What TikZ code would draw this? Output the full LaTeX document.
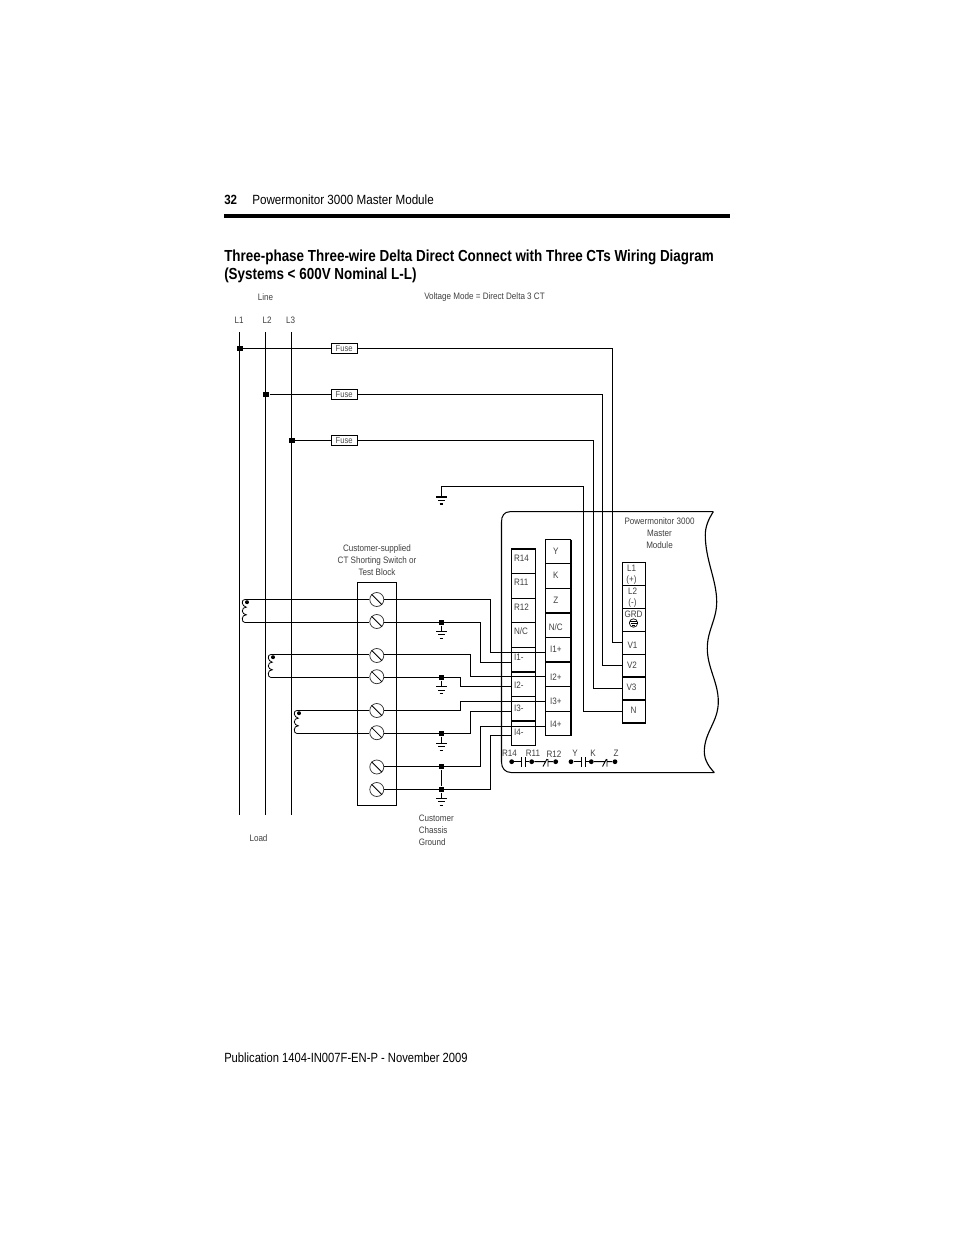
\documentclass[tikz,border=0pt]{standalone}
\usepackage{fontspec}
\setmainfont{Liberation Sans}[FakeStretch=0.865]
\newfontfamily\ttl{Liberation Sans}[FakeStretch=0.84]
\newfontfamily\hdr{Liberation Sans}[FakeStretch=0.875]
\newfontfamily\ftr{Liberation Sans}[FakeStretch=0.84]
\tikzset{
  x=0.75pt,y=-0.75pt,
  wire/.style={line width=0.76pt,black},
  lab/.style={font=\fontsize{7}{8}\selectfont,text=black!75,inner sep=0pt,anchor=west},
  labc/.style={font=\fontsize{7}{9}\selectfont,text=black!75,inner sep=0pt,align=center},
  labl/.style={font=\fontsize{7}{9}\selectfont,text=black!75,inner sep=0pt,align=left,anchor=north west},
  fusebox/.style={draw,line width=0.7pt,minimum width=19.5pt,minimum height=7pt,inner sep=0pt,font=\fontsize{6.6}{7}\selectfont,text=black!70},
  screw/.style={circle,draw=black!80,line width=0.55pt,minimum size=10.5pt,inner sep=0pt},
  jn/.style={fill=black,minimum size=4.4pt,inner sep=0pt},
  pin/.style={circle,fill=black,minimum size=3.6pt,inner sep=0pt},
  tbar/.style={line width=0.7pt},
  thick bar/.style={line width=1.5pt}
}
\newcommand{\gsym}[1]{%
  \draw[wire] (#1) ++(-5.5,0) -- ++(11,0);
  \draw[wire] (#1) ++(-3.5,3.5) -- ++(7,0);
  \draw[wire] (#1) ++(-1.8,7) -- ++(3.6,0);
}
\newcommand{\coil}[2]{%
  \draw[line width=0.6pt] (#1+2.5,#2) .. controls (#1+0.5,#2) and (#1,#2+1.5) .. (#1,#2+3.5)
     .. controls (#1,#2+5.5) and (#1+2,#2+7) .. (#1+4,#2+7.7)
     .. controls (#1+1.5,#2+7.7) and (#1,#2+9) .. (#1,#2+11.5)
     .. controls (#1,#2+13.5) and (#1+2,#2+15) .. (#1+4,#2+15.3)
     .. controls (#1+1.5,#2+15.3) and (#1,#2+17) .. (#1,#2+19)
     .. controls (#1,#2+21) and (#1+0.5,#2+23) .. (#1+2.5,#2+23);
  \fill (#1+4.7,#2+2.7) circle (2);
}
\begin{document}
\begin{tikzpicture}
\useasboundingbox (0,0) rectangle (954,1235);
\fill[white] (0,0) rectangle (954,1235);
% header
\node[anchor=base west,inner sep=0pt,font=\fontsize{10}{12}\selectfont\bfseries] (pg) at (224,204.5) {32};
\node[anchor=base west,inner sep=0pt,font=\hdr\fontsize{10}{12}\selectfont] (ht) at (252,204.5) {Powermonitor 3000 Master Module};
\draw[line width=2.4pt] (224,216) -- (730,216);
\node[anchor=base west,inner sep=0pt,font=\ttl\bfseries\fontsize{12}{14}\selectfont] (t1) at (224,261.5) {Three-phase Three-wire Delta Direct Connect with Three CTs Wiring Diagram};
\node[anchor=base west,inner sep=0pt,font=\ttl\bfseries\fontsize{12}{14}\selectfont] (t2) at (224,279.5) {(Systems < 600V Nominal L-L)};
\node[anchor=base west,inner sep=0pt,font=\ftr\fontsize{10}{12}\selectfont] (ft) at (224,1062.5) {Publication 1404-IN007F-EN-P - November 2009};
% top labels
\node[labc] (line) at (265.5,297.5) {Line};
\node[labc] (vm) at (484.5,297) {Voltage Mode = Direct Delta 3 CT};
\node[labc] (tl1) at (239,320.5) {L1};
\node[labc] (tl2) at (267,320.5) {L2};
\node[labc] (tl3) at (290.5,320.5) {L3};
\node[labc] (load) at (258.5,838.5) {Load};
\node[labc] (css) at (377,560) {Customer-supplied\\CT Shorting Switch or\\Test Block};
\node[labl] (ccg) at (418.5,815) {Customer\\Chassis\\Ground};
\node[labc] (pmm) at (659.5,533.5) {Powermonitor 3000\\Master\\Module};
% bus lines
\coordinate (b1t) at (239.5,332); \coordinate (b1b) at (239.5,815);
\coordinate (b2t) at (265.5,332); \coordinate (b2b) at (265.5,815);
\coordinate (b3t) at (291.5,332); \coordinate (b3b) at (291.5,815);
\draw[wire] (b1t) -- (b1b); \draw[wire] (b2t) -- (b2b); \draw[wire] (b3t) -- (b3b);
% module outline
\draw[wire] (713.3,511.7) -- (510,511.7) .. controls (504,511.7) and (501.5,516) .. (501.5,522) -- (501.5,762)
  .. controls (501.5,768) and (505,772.5) .. (511,772.5) -- (714.3,772.5);
\draw[line width=0.85pt] (713.3,511.7) .. controls (708,520) and (705.3,527) .. (705.3,535)
  .. controls (705.3,560) and (716.7,580) .. (716.7,601.7)
  .. controls (716.7,620) and (707.3,630) .. (707.3,648.3)
  .. controls (707.3,668) and (718.3,682) .. (718.3,701.7)
  .. controls (718.3,722) and (704.3,732) .. (704.3,751.7)
  .. controls (704.3,760) and (709,767) .. (714.3,772.5);
% fuses + wires
\node[fusebox] (f1) at (344.2,348.5) {Fuse\hspace{2.5pt}};
\node[fusebox] (f2) at (344.2,394.5) {Fuse\hspace{2.5pt}};
\node[fusebox] (f3) at (344.2,440.5) {Fuse\hspace{2.5pt}};
\node[jn] (j1) at (239.8,348.5) {};
\node[jn] (j2) at (266.3,394.5) {};
\node[jn] (j3) at (291.8,440.5) {};
\draw[wire] (j1) -- (f1); \draw[wire] (j2) -- (f2); \draw[wire] (j3) -- (f3);
% terminals right
\coordinate (v1) at (622.3,642.5);
\coordinate (v2) at (622.3,665.5);
\coordinate (v3) at (622.3,688.5);
\coordinate (vn) at (622.3,711.5);
\draw[wire] (f1) -- (612.5,348.5) -- (612.5,642.5) -- (v1);
\draw[wire] (f2) -- (602.5,394.5) -- (602.5,665.5) -- (v2);
\draw[wire] (f3) -- (593.5,440.5) -- (593.5,688.5) -- (v3);
\coordinate (g0) at (441.5,497);
\draw[wire] (g0) -- (441.5,486.5) -- (583.5,486.5) -- (583.5,711.5) -- (vn);
\gsym{g0}
% test block
\node[draw,line width=0.76pt,minimum width=29.25pt,minimum height=167.25pt,inner sep=0pt] (tb) at (376.8,693.8) {};
\foreach \n/\y in {s1/599.5,s2/621.5,s3/655.5,s4/676.7,s5/710.5,s6/732.7,s7/767,s8/789.5}{
  \node[screw] (\n) at (376.8,\y) {};
  \draw[line width=0.6pt] (\n.135) -- (\n.-45);
}
% CTs
\coil{242.3}{599.5}
\coil{268.3}{654.5}
\coil{294.3}{710.5}
\coordinate (c1a) at (244.8,599.5); \coordinate (c1b) at (244.8,622.5);
\coordinate (c2a) at (270.8,654.5); \coordinate (c2b) at (270.8,677.5);
\coordinate (c3a) at (296.8,710.5); \coordinate (c3b) at (296.8,733.5);
\draw[wire] (c1a) -- (s1.west); \draw[wire] (c1b) -- (s2.west |- c1b);
\draw[wire] (c2a) -- (s3.west |- c2a); \draw[wire] (c2b) -- (s4.west |- c2b);
\draw[wire] (c3a) -- (s5.west |- c3a); \draw[wire] (c3b) -- (s6.west |- c3b);
% terminal nodes for current inputs
\coordinate (ip1) at (545.3,652.5); \coordinate (im1) at (511.3,662.5);
\coordinate (ip2) at (545.3,676.5); \coordinate (im2) at (511.3,686.5);
\coordinate (ip3) at (545.3,701.5); \coordinate (im3) at (511.3,711.5);
\coordinate (ip4) at (545.3,726.5); \coordinate (im4) at (511.3,735.5);
\draw[wire] (s1.east) -- (490.5,599.5) -- (490.5,652.5) -- (ip1);
\draw[wire] (s2.east |- 0,622.5) -- (480.5,622.5) -- (480.5,662.5) -- (im1);
\draw[wire] (s3.east |- 0,654.5) -- (470.5,654.5) -- (470.5,676.5) -- (ip2);
\draw[wire] (s4.east |- 0,677.5) -- (460.5,677.5) -- (460.5,686.5) -- (im2);
\draw[wire] (s5.east) -- (460.5,710.5) -- (460.5,701.5) -- (ip3);
\draw[wire] (s6.east |- 0,733.5) -- (470.5,733.5) -- (470.5,711.5) -- (im3);
\draw[wire] (s7.east |- 0,766.5) -- (480.5,766.5) -- (480.5,726.5) -- (ip4);
\draw[wire] (s8.east) -- (490.5,789.5) -- (490.5,735.5) -- (im4);
% grounds
\foreach \n/\y/\z in {g1/622.5/631,g2/677.5/686.5,g3/733.5/743}{
  \node[jn] (\n) at (441.5,\y) {};
  \coordinate (\n e) at (441.5,\z);
  \draw[wire] (\n) -- (\n e);
  \gsym{\n e}
}
\node[jn] (g4) at (441.5,766.5) {};
\node[jn] (g5) at (441.5,789.5) {};
\coordinate (g5e) at (441.5,798);
\draw[wire] (g4) -- (g5) -- (g5e);
\gsym{g5e}
% left terminal block
\draw[wire] (511.5,548.5) rectangle (535.5,745.5);
\foreach \y in {573.5,598.5,622.5,647.5,696.5}{\draw[tbar] (511.5,\y) -- (535.5,\y);}
\foreach \y in {548.5,671.5,721}{\draw[thick bar] (511.5,\y) -- (535.5,\y);}
% middle block
\draw[wire] (545.5,539.5) rectangle (570.5,735.5);
\draw[thick bar] (570.5,539.5) -- (570.5,735.5);
\foreach \y in {563.5,588.5,637.5,686.5,711.5}{\draw[tbar] (545.5,\y) -- (570.5,\y);}
\foreach \y in {613.3,662}{\draw[thick bar] (545.5,\y) -- (570.5,\y);}
% right block
\draw[wire] (622.5,562.5) rectangle (645.5,723);
\draw[thick bar] (622.5,723) -- (645.5,723);
\foreach \y in {585.5,608.5,631.5,654.5}{\draw[tbar] (622.5,\y) -- (645.5,\y);}
\foreach \y in {677,700}{\draw[thick bar] (622.5,\y) -- (645.5,\y);}
% block text
\foreach \n/\t/\y in {lb1/R14/558.5,lb2/R11/582.5,lb3/R12/607,lb4/N\slash C/631.5,lb5/I1-/657.5,lb6/I2-/685.5,lb7/I3-/708.5,lb8/I4-/732.5}{
  \node[lab] (\n) at (513.8,\y) {\t};
}
\foreach \n/\t/\y in {mb1/Y/551.5,mb2/K/575,mb3/Z/600.5,mb4/N\slash C/627.5,mb5/I1+/649.5,mb6/I2+/677.5,mb7/I3+/701,mb8/I4+/724.5}{
  \node[labc] (\n) at (555.8,\y) {\t};
}
\node[labc,font=\fontsize{7}{8.5}\selectfont] (rl1) at (631.5,574.5) {L1\\(+)};
\node[labc,font=\fontsize{7}{8.5}\selectfont] (rl2) at (632.5,597.5) {L2\\(-)};
\node[labc] (rg) at (633.5,614) {GRD};
\node[labc] (rv1) at (632.5,645.5) {V1};
\node[labc] (rv2) at (632,665) {V2};
\node[labc] (rv3) at (631.5,687) {V3};
\node[labc] (rn) at (633.5,710.5) {N};
\draw[line width=0.5pt] (633.5,623) circle (4.2);
\draw[line width=0.5pt] (630.2,621.5) -- (636.8,621.5) (630.5,623.5) -- (636.5,623.5) (632,625.5) -- (635,625.5);
% contacts
\foreach \n/\x in {p1/511.7,p2/531.7,p3/555.7,p4/571,p5/591.3,p6/615}{
  \node[pin] (\n) at (\x,761.7) {};
}
\foreach \n/\t/\x/\y in {c1/R14/509.5/753,c2/R11/533/753,c3/R12/554/754.5,c4/Y/575/753,c5/K/593/753,c6/Z/616/753}{
  \node[labc] (\n) at (\x,\y) {\t};
}
\draw[line width=0.7pt] (p1) -- (521.7,761.7) (521.7,757) -- (521.7,766.5) (525.3,757) -- (525.3,766.5) (525.3,761.7) -- (p2);
\draw[line width=0.7pt] (p2) -- (545,761.7) (548,759) -- (548,766.5) (543,766.5) -- (547,759) (548,761.7) -- (p3);
\draw[line width=0.7pt] (p4) -- (581,761.7) (581,757) -- (581,766.5) (585,757) -- (585,766.5) (585,761.7) -- (p5);
\draw[line width=0.7pt] (p5) -- (604.5,761.7) (607,759) -- (607,766.5) (602.5,766.5) -- (606.5,759) (607,761.7) -- (p6);
\end{tikzpicture}
\end{document}
